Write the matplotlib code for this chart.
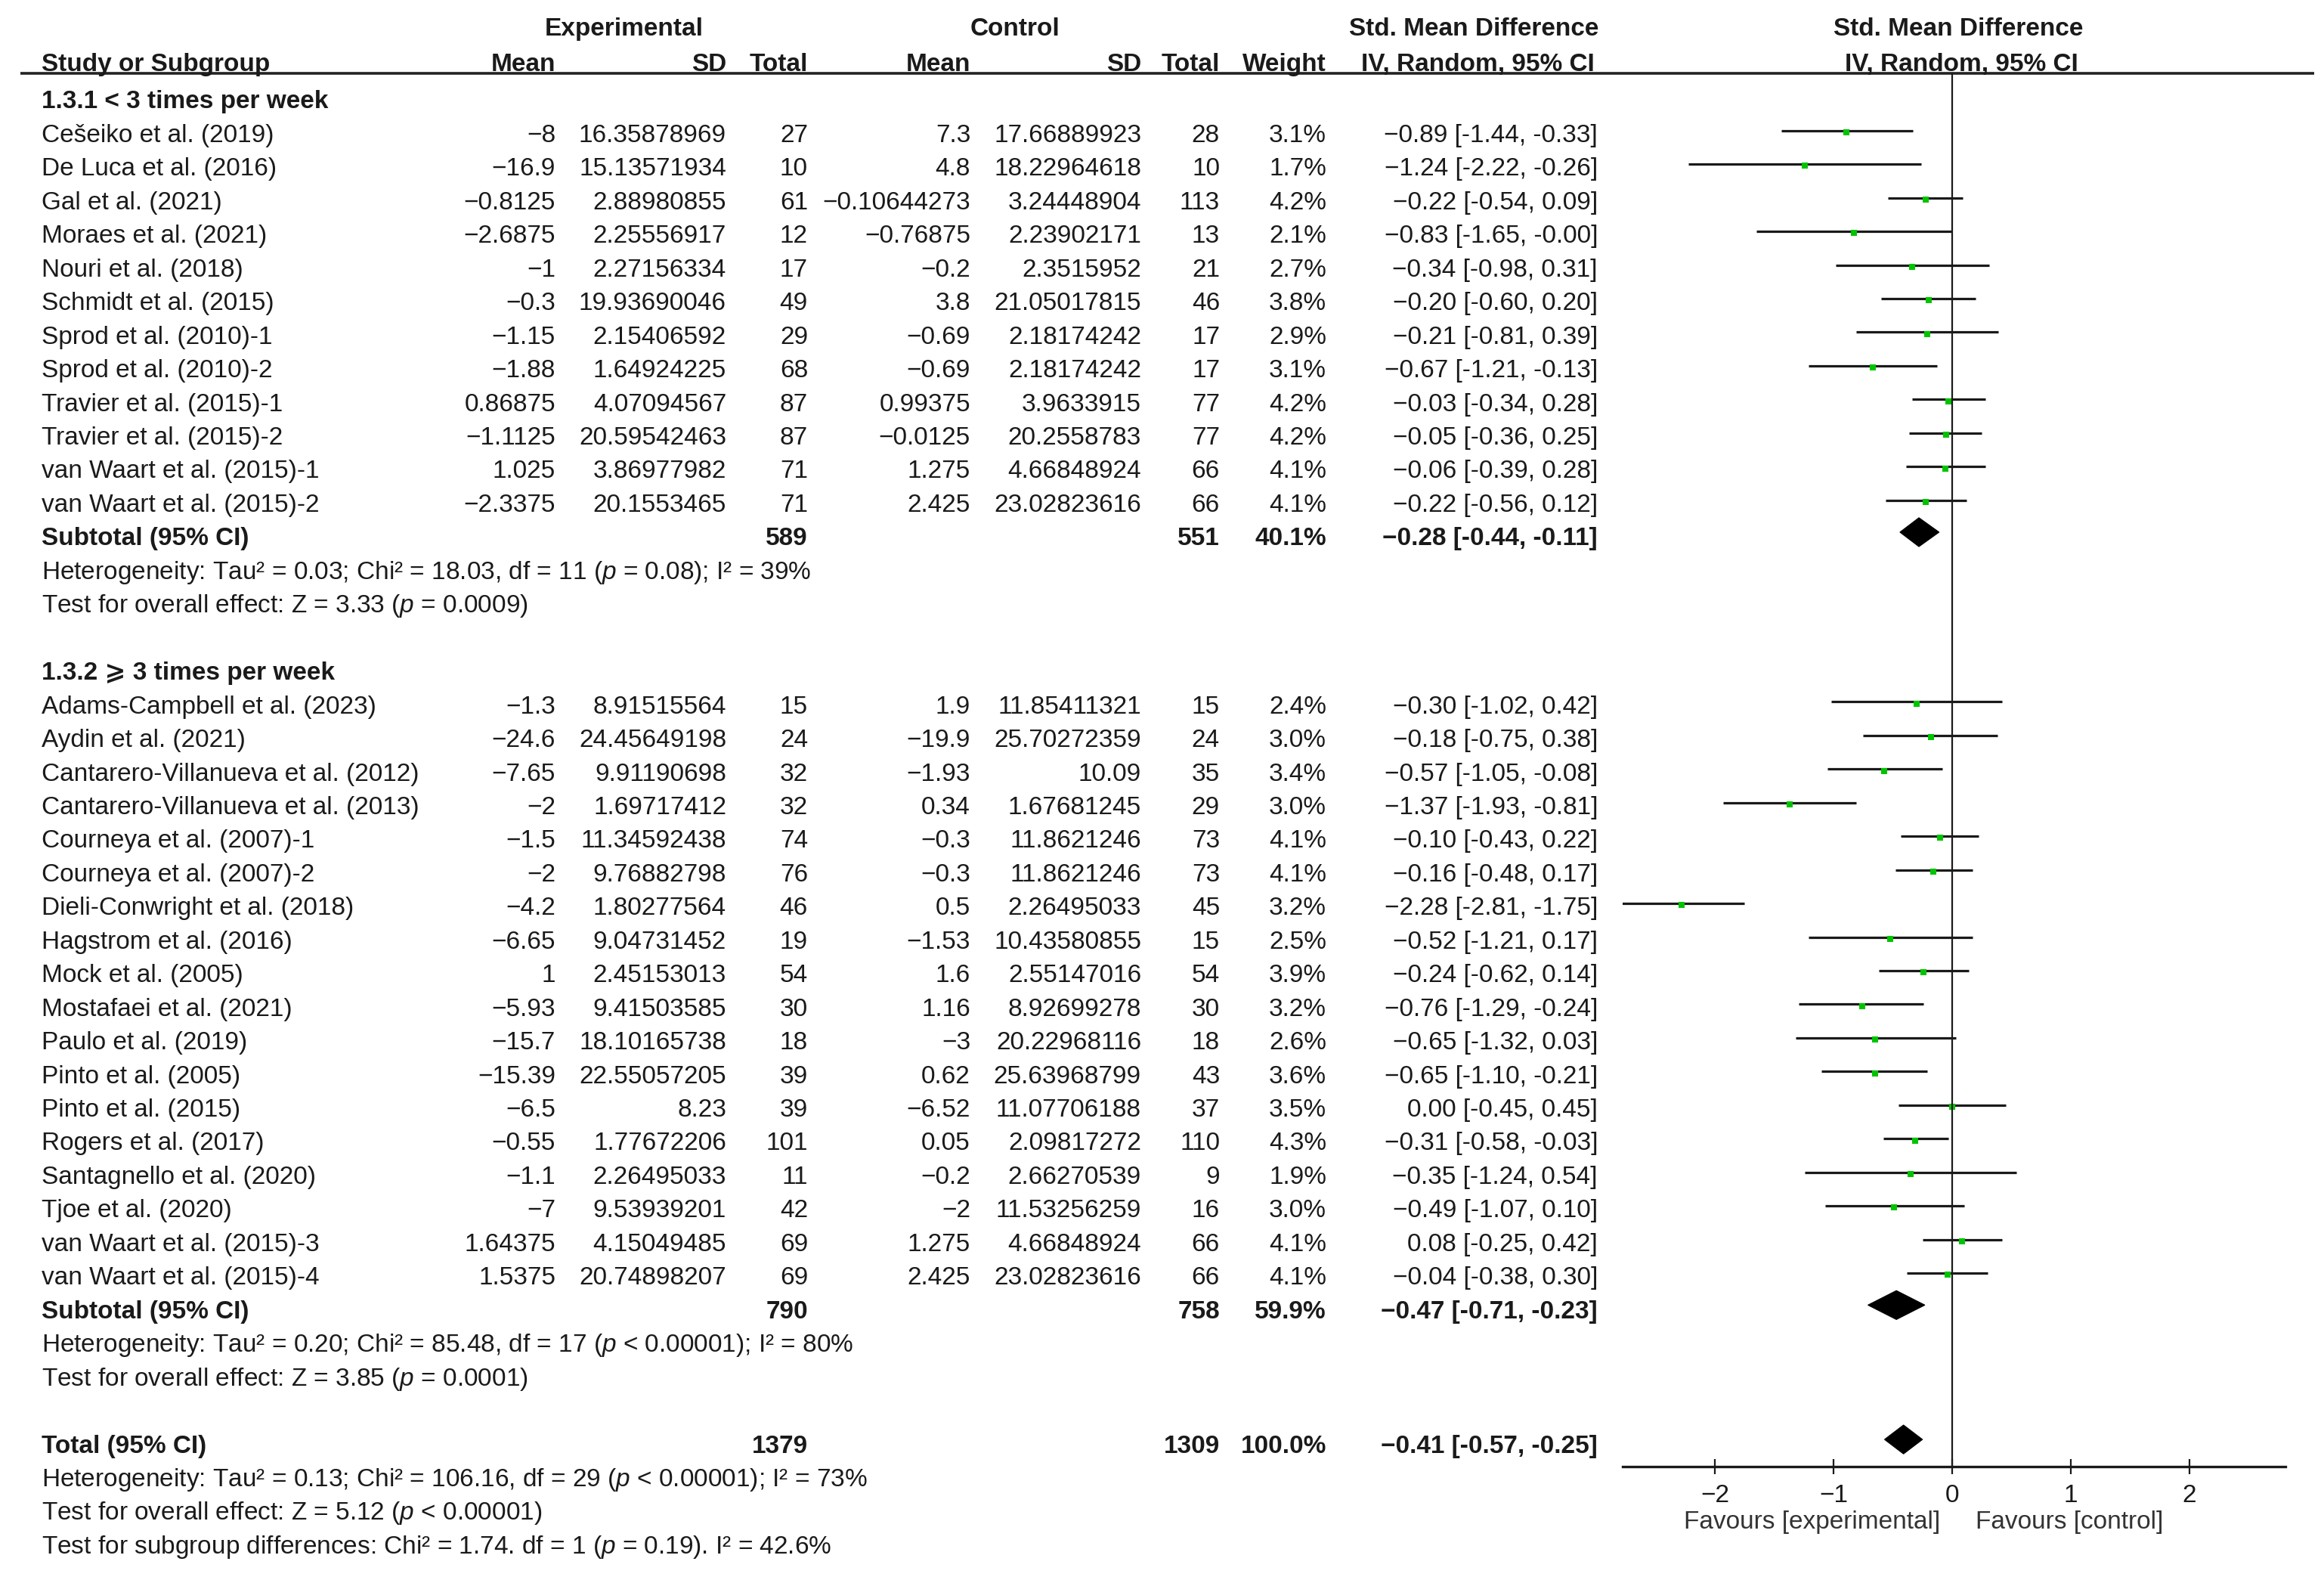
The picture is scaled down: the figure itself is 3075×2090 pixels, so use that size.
import matplotlib
matplotlib.use("Agg")
import matplotlib.pyplot as plt
from matplotlib.patches import Polygon

plt.rcParams['font.family'] = ['Liberation Sans', 'DejaVu Sans']
plt.rcParams['mathtext.fontset'] = 'custom'
plt.rcParams['mathtext.it'] = 'Liberation Sans:italic'
plt.rcParams['mathtext.rm'] = 'Liberation Sans'

# ---------------- data ----------------
g1_studies = ["Cešeiko et al. (2019)", "De Luca et al. (2016)", "Gal et al. (2021)", "Moraes et al. (2021)",
              "Nouri et al. (2018)", "Schmidt et al. (2015)", "Sprod et al. (2010)-1", "Sprod et al. (2010)-2",
              "Travier et al. (2015)-1", "Travier et al. (2015)-2", "van Waart et al. (2015)-1",
              "van Waart et al. (2015)-2"]
g1_exp_mean = ["-8", "-16.9", "-0.8125", "-2.6875", "-1", "-0.3", "-1.15", "-1.88", "0.86875", "-1.1125", "1.025", "-2.3375"]
g1_exp_sd = ["16.35878969", "15.13571934", "2.88980855", "2.25556917", "2.27156334", "19.93690046", "2.15406592",
             "1.64924225", "4.07094567", "20.59542463", "3.86977982", "20.1553465"]
g1_exp_n = [27, 10, 61, 12, 17, 49, 29, 68, 87, 87, 71, 71]
g1_ctl_mean = ["7.3", "4.8", "-0.10644273", "-0.76875", "-0.2", "3.8", "-0.69", "-0.69", "0.99375", "-0.0125", "1.275", "2.425"]
g1_ctl_sd = ["17.66889923", "18.22964618", "3.24448904", "2.23902171", "2.3515952", "21.05017815", "2.18174242",
             "2.18174242", "3.9633915", "20.2558783", "4.66848924", "23.02823616"]
g1_ctl_n = [28, 10, 113, 13, 21, 46, 17, 17, 77, 77, 66, 66]
g1_weight = [3.1, 1.7, 4.2, 2.1, 2.7, 3.8, 2.9, 3.1, 4.2, 4.2, 4.1, 4.1]
g1_smd = [-0.89, -1.24, -0.22, -0.83, -0.34, -0.20, -0.21, -0.67, -0.03, -0.05, -0.06, -0.22]
g1_lo = [-1.44, -2.22, -0.54, -1.65, -0.98, -0.60, -0.81, -1.21, -0.34, -0.36, -0.39, -0.56]
g1_hi = [-0.33, -0.26, 0.09, -0.00, 0.31, 0.20, 0.39, -0.13, 0.28, 0.25, 0.28, 0.12]

g2_studies = ["Adams-Campbell et al. (2023)", "Aydin et al. (2021)", "Cantarero-Villanueva et al. (2012)",
              "Cantarero-Villanueva et al. (2013)", "Courneya et al. (2007)-1", "Courneya et al. (2007)-2",
              "Dieli-Conwright et al. (2018)", "Hagstrom et al. (2016)", "Mock et al. (2005)",
              "Mostafaei et al. (2021)", "Paulo et al. (2019)", "Pinto et al. (2005)", "Pinto et al. (2015)",
              "Rogers et al. (2017)", "Santagnello et al. (2020)", "Tjoe et al. (2020)",
              "van Waart et al. (2015)-3", "van Waart et al. (2015)-4"]
g2_exp_mean = ["-1.3", "-24.6", "-7.65", "-2", "-1.5", "-2", "-4.2", "-6.65", "1", "-5.93", "-15.7", "-15.39",
               "-6.5", "-0.55", "-1.1", "-7", "1.64375", "1.5375"]
g2_exp_sd = ["8.91515564", "24.45649198", "9.91190698", "1.69717412", "11.34592438", "9.76882798", "1.80277564",
             "9.04731452", "2.45153013", "9.41503585", "18.10165738", "22.55057205", "8.23", "1.77672206",
             "2.26495033", "9.53939201", "4.15049485", "20.74898207"]
g2_exp_n = [15, 24, 32, 32, 74, 76, 46, 19, 54, 30, 18, 39, 39, 101, 11, 42, 69, 69]
g2_ctl_mean = ["1.9", "-19.9", "-1.93", "0.34", "-0.3", "-0.3", "0.5", "-1.53", "1.6", "1.16", "-3", "0.62",
               "-6.52", "0.05", "-0.2", "-2", "1.275", "2.425"]
g2_ctl_sd = ["11.85411321", "25.70272359", "10.09", "1.67681245", "11.8621246", "11.8621246", "2.26495033",
             "10.43580855", "2.55147016", "8.92699278", "20.22968116", "25.63968799", "11.07706188",
             "2.09817272", "2.66270539", "11.53256259", "4.66848924", "23.02823616"]
g2_ctl_n = [15, 24, 35, 29, 73, 73, 45, 15, 54, 30, 18, 43, 37, 110, 9, 16, 66, 66]
g2_weight = [2.4, 3.0, 3.4, 3.0, 4.1, 4.1, 3.2, 2.5, 3.9, 3.2, 2.6, 3.6, 3.5, 4.3, 1.9, 3.0, 4.1, 4.1]
g2_smd = [-0.30, -0.18, -0.57, -1.37, -0.10, -0.16, -2.28, -0.52, -0.24, -0.76, -0.65, -0.65, 0.00, -0.31,
          -0.35, -0.49, 0.08, -0.04]
g2_lo = [-1.02, -0.75, -1.05, -1.93, -0.43, -0.48, -2.81, -1.21, -0.62, -1.29, -1.32, -1.10, -0.45, -0.58,
         -1.24, -1.07, -0.25, -0.38]
g2_hi = [0.42, 0.38, -0.08, -0.81, 0.22, 0.17, -1.75, 0.17, 0.14, -0.24, 0.03, -0.21, 0.45, -0.03, 0.54,
         0.10, 0.42, 0.30]

sub_labels = ["Subtotal (95% CI)", "Subtotal (95% CI)", "Total (95% CI)"]
sub_exp_n = [589, 790, 1379]
sub_ctl_n = [551, 758, 1309]
sub_weight = ["40.1%", "59.9%", "100.0%"]
sub_smd = [-0.28, -0.47, -0.41]
sub_lo = [-0.44, -0.71, -0.57]
sub_hi = [-0.11, -0.23, -0.25]

group_titles = ["1.3.1 < 3 times per week", "1.3.2 \u2A7E 3 times per week"]
g1_notes = ["Heterogeneity: Tau² = 0.03; Chi² = 18.03, df = 11 ($p$ = 0.08); I² = 39%",
            "Test for overall effect: Z = 3.33 ($p$ = 0.0009)"]
g2_notes = ["Heterogeneity: Tau² = 0.20; Chi² = 85.48, df = 17 ($p$ < 0.00001); I² = 80%",
            "Test for overall effect: Z = 3.85 ($p$ = 0.0001)"]
total_notes = ["Heterogeneity: Tau² = 0.13; Chi² = 106.16, df = 29 ($p$ < 0.00001); I² = 73%",
               "Test for overall effect: Z = 5.12 ($p$ < 0.00001)",
               "Test for subgroup differences: Chi² = 1.74. df = 1 ($p$ = 0.19). I² = 42.6%"]
xticks = [-2, -1, 0, 1, 2]
favours = ["Favours [experimental]", "Favours [control]"]

# ---------------- layout ----------------
W, H = 3075, 2090
DPI = 100
FS = 24.0
Y0, DY = 135.0, 44.45          # pixel y of row 0, row spacing
ytop = -Y0 / DY
ybot = (H - Y0) / DY

def mfmt(s):
    return s.replace("-", "\u2212")

def cifmt(m, lo, hi):
    first = ("%.2f" % m)
    if m < 0:
        first = "\u2212" + ("%.2f" % abs(m))
    lo_s = "%.2f" % lo
    hi_s = "%.2f" % hi
    if hi == 0 and str(hi).startswith("-"):
        hi_s = "-0.00"
    return "%s [%s, %s]" % (first, lo_s, hi_s)

fig = plt.figure(figsize=(W / DPI, H / DPI), dpi=DPI)
ax = fig.add_axes([0, 0, 1, 1])
ax.set_xlim(0, W)
ax.set_ylim(ybot, ytop)
ax.axis("off")

x_name = 55
x_em, x_esd, x_en = 735, 961, 1069
x_cm, x_csd, x_cn = 1284, 1510, 1614
x_w, x_ci = 1755, 2114

ax_l, ax_r = 2147, 3024
xlo, xhi = -2.777, 2.809
fax = fig.add_axes([ax_l / W, 0, (ax_r - ax_l) / W, 1])
fax.set_xlim(xlo, xhi)
fax.set_ylim(ybot, ytop)
fax.patch.set_alpha(0)

txtc = "#1a1a1a"

# headers
hy1, hy2 = -2.16, -1.12
kw_h = dict(fontsize=FS, fontweight="bold", color=txtc, va="center")
ax.text(826, hy1, "Experimental", ha="center", **kw_h)
ax.text(1343, hy1, "Control", ha="center", **kw_h)
ax.text(1950, hy1, "Std. Mean Difference", ha="center", **kw_h)
ax.text(x_name, hy2, "Study or Subgroup", ha="left", **kw_h)
for x, t in [(x_em, "Mean"), (x_esd, "SD"), (x_en, "Total"), (x_cm, "Mean"), (x_csd, "SD"),
             (x_cn, "Total"), (x_w, "Weight")]:
    ax.text(x, hy2, t, ha="right", **kw_h)
ax.text(1955, hy2, "IV, Random, 95% CI", ha="center", **kw_h)
fax.text(0.05, hy1, "Std. Mean Difference", ha="center", **kw_h)
fax.text(0.08, hy2, "IV, Random, 95% CI", ha="center", **kw_h)
ul_y = -0.86
ax.plot([27, 3062], [ul_y, ul_y], color="#222222", lw=2.6, solid_capstyle="butt")

kw = dict(fontsize=FS, color=txtc, va="center")
kwb = dict(fontsize=FS, color=txtc, va="center", fontweight="bold")

def draw_group(start, title, names, em, esd, en, cm, csd, cn, wt, smd, lo, hi):
    ax.text(x_name, start, title, ha="left", **kwb)
    for k in range(len(names)):
        y = start + 1 + k
        ax.text(x_name, y, names[k], ha="left", **kw)
        ax.text(x_em, y, mfmt(em[k]), ha="right", **kw)
        ax.text(x_esd, y, esd[k], ha="right", **kw)
        ax.text(x_en, y, str(en[k]), ha="right", **kw)
        ax.text(x_cm, y, mfmt(cm[k]), ha="right", **kw)
        ax.text(x_csd, y, csd[k], ha="right", **kw)
        ax.text(x_cn, y, str(cn[k]), ha="right", **kw)
        ax.text(x_w, y, "%.1f%%" % wt[k], ha="right", **kw)
        ax.text(x_ci, y, cifmt(smd[k], lo[k], hi[k]), ha="right", **kw)
        fax.plot([lo[k], hi[k]], [y - 0.15, y - 0.15], color="#1a1a1a", lw=2.3, solid_capstyle="butt")
        fax.plot([smd[k]], [y - 0.1], marker="s", color="#00c400", markersize=5.6, markeredgewidth=0)

def draw_summary(y, idx):
    ax.text(x_name, y, sub_labels[idx], ha="left", **kwb)
    ax.text(x_en, y, str(sub_exp_n[idx]), ha="right", **kwb)
    ax.text(x_cn, y, str(sub_ctl_n[idx]), ha="right", **kwb)
    ax.text(x_w, y, sub_weight[idx], ha="right", **kwb)
    ax.text(x_ci, y, cifmt(sub_smd[idx], sub_lo[idx], sub_hi[idx]), ha="right", **kwb)
    yc = y - 0.2
    hh = 0.43
    poly = Polygon([[sub_lo[idx], yc], [sub_smd[idx], yc - hh], [sub_hi[idx], yc], [sub_smd[idx], yc + hh]],
                   closed=True, facecolor="black", edgecolor="black", lw=0.8)
    fax.add_patch(poly)

draw_group(0, group_titles[0], g1_studies, g1_exp_mean, g1_exp_sd, g1_exp_n, g1_ctl_mean, g1_ctl_sd,
           g1_ctl_n, g1_weight, g1_smd, g1_lo, g1_hi)
draw_summary(13, 0)
for j, t in enumerate(g1_notes):
    ax.text(x_name, 14 + j, t, ha="left", **kw)

draw_group(17, group_titles[1], g2_studies, g2_exp_mean, g2_exp_sd, g2_exp_n, g2_ctl_mean, g2_ctl_sd,
           g2_ctl_n, g2_weight, g2_smd, g2_lo, g2_hi)
draw_summary(36, 1)
for j, t in enumerate(g2_notes):
    ax.text(x_name, 37 + j, t, ha="left", **kw)

draw_summary(40, 2)
for j, t in enumerate(total_notes):
    ax.text(x_name, 41 + j, t, ha="left", **kw)

# forest axis
axis_y = 40.6
fax.plot([0, 0], [ul_y, axis_y], color="#1a1a1a", lw=1.6)
for s in ["top", "left", "right"]:
    fax.spines[s].set_visible(False)
fax.spines["bottom"].set_position(("data", axis_y))
fax.spines["bottom"].set_linewidth(2.4)
fax.spines["bottom"].set_color("#1a1a1a")
fax.set_yticks([])
fax.set_xticks(xticks)
fax.set_xticklabels([mfmt(str(v)) for v in xticks])
fax.tick_params(axis="x", direction="inout", length=15, width=1.6, pad=9, labelsize=FS, colors="#1a1a1a")
fax.text(-0.1, 42.27, favours[0], ha="right", va="center", fontsize=FS, color="#333333")
fax.text(0.2, 42.27, favours[1], ha="left", va="center", fontsize=FS, color="#333333")

fig.savefig("out.png", dpi=DPI)
